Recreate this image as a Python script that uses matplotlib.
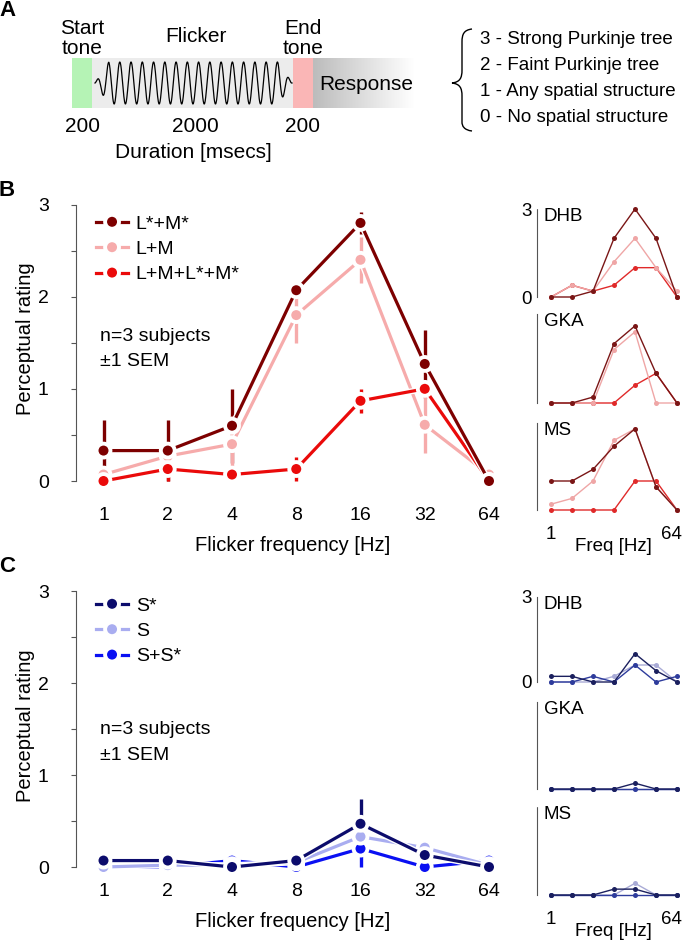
import numpy as np
import matplotlib
matplotlib.use("Agg")
import matplotlib.pyplot as plt
import matplotlib.patheffects as pe
from matplotlib.path import Path
from matplotlib.patches import PathPatch, Rectangle

plt.rcParams['font.family'] = ['Liberation Sans', 'DejaVu Sans']

W, H = 684, 941

freqs = [1, 2, 4, 8, 16, 32, 64]

# panel B: means and SEM over subjects
lm_star = [0.33, 0.33, 0.60, 2.07, 2.80, 1.27, 0.00]
lm_star_sem = [0.33, 0.33, 0.40, 0.07, 0.12, 0.37, 0.00]
lm = [0.07, 0.27, 0.40, 1.80, 2.40, 0.61, 0.07]
lm_sem = [0.07, 0.13, 0.30, 0.30, 0.25, 0.31, 0.07]
lm_both = [0.00, 0.13, 0.07, 0.13, 0.87, 1.00, 0.00]
lm_both_sem = [0.00, 0.13, 0.07, 0.13, 0.13, 0.00, 0.00]

# panel B: single subjects (L*+M*, L+M, L+M+L*+M*)
dhb_lm_star = [0, 0, 0.2, 2.0, 3.0, 2.0, 0]
dhb_lm = [0, 0.4, 0.2, 1.2, 2.0, 1.0, 0.2]
dhb_lm_both = [0, 0.4, 0.2, 0.4, 1.0, 1.0, 0]
gka_lm_star = [0, 0, 0.2, 2.0, 2.6, 1.0, 0]
gka_lm = [0, 0, 0, 1.8, 2.4, 0, 0]
gka_lm_both = [0, 0, 0, 0, 0.6, 1.0, 0]
ms_lm_star = [1.0, 1.0, 1.4, 2.2, 2.8, 0.8, 0]
ms_lm = [0.2, 0.4, 1.0, 2.4, 2.8, 0.8, 0]
ms_lm_both = [0, 0, 0, 0, 1.0, 1.0, 0]

# panel C: means and SEM
s_star = [0.07, 0.07, 0.00, 0.07, 0.47, 0.13, 0.00]
s_star_sem = [0.07, 0.07, 0.00, 0.07, 0.27, 0.13, 0.00]
s = [0.00, 0.02, 0.02, 0.05, 0.33, 0.21, 0.02]
s_sem = [0.00, 0.00, 0.00, 0.05, 0.10, 0.05, 0.00]
s_both = [0.00, 0.00, 0.07, 0.00, 0.20, 0.00, 0.07]
s_both_sem = [0.00, 0.00, 0.07, 0.00, 0.20, 0.00, 0.07]

# panel C: single subjects (S*, S, S+S*)
dhb_s_star = [0.2, 0.2, 0, 0, 1.0, 0.4, 0]
dhb_s = [0, 0, 0, 0.2, 0.6, 0.6, 0]
dhb_s_both = [0, 0, 0.2, 0, 0.6, 0, 0.2]
gka_s_star = [0, 0, 0, 0, 0.2, 0, 0]
gka_s = [0, 0, 0, 0, 0, 0, 0]
gka_s_both = [0, 0, 0, 0, 0, 0, 0]
ms_s_star = [0, 0, 0, 0.2, 0.2, 0, 0]
ms_s = [0, 0, 0, 0, 0.4, 0, 0]
ms_s_both = [0, 0, 0, 0, 0, 0, 0]

rating_labels = ["3 - Strong Purkinje tree", "2 - Faint Purkinje tree",
                 "1 - Any spatial structure", "0 - No spatial structure"]

RED_DARK, RED_PINK, RED = '#7d0000', '#f6abab', '#ea0a0a'
BLUE_DARK, BLUE_LAV, BLUE = '#0c0c6c', '#a9adf0', '#0a10f2'
sRED_DARK, sRED_PINK, sRED = '#7a1616', '#efa6a6', '#e02a2a'
sBLUE_DARK, sBLUE_LAV, sBLUE = '#1b205e', '#a9abd6', '#2e3c9c'

fig = plt.figure(figsize=(W / 100, H / 100), dpi=100)


def box(l, t, r, b):
    return [l / W, 1 - b / H, (r - l) / W, (b - t) / H]


def place(x1, x64, y0, y3, left, right, ylo, yhi):
    sx = (x64 - x1) / 6.0
    sy = (y0 - y3) / 3.0
    ax = fig.add_axes(box(left, y3 - (yhi - 3) * sy, right, y0 + (0 - ylo) * sy))
    ax.set_xscale('log', base=2)
    ax.set_xlim(2 ** ((left - x1) / sx), 2 ** ((right - x1) / sx))
    ax.set_ylim(ylo, yhi)
    ax.patch.set_alpha(0)
    for side in ['top', 'right', 'bottom']:
        ax.spines[side].set_visible(False)
    ax.spines['left'].set_bounds(0, 3)
    ax.spines['left'].set_linestyle((0, (1, 1)))
    ax.spines['left'].set_linewidth(0.8)
    ax.spines['left'].set_color('#555555')
    ax.minorticks_off()
    return ax


# ---------------- panel A ----------------
axA = fig.add_axes([0, 1 - 170 / H, 1, 170 / H])
axA.axis('off')
axA.text(8, 11, 'A', fontsize=16, fontweight='bold', ha='center', va='center')

axA.add_patch(Rectangle((92, 58), 201, 50, color='#ececec', lw=0))
axA.add_patch(Rectangle((72, 58), 20, 50, color='#b5f3b5', lw=0))
axA.add_patch(Rectangle((293, 58), 20, 50, color='#fab6b6', lw=0))
grad = np.linspace(0.68, 1.0, 256) ** 0.8
axA.imshow(grad[None, :], extent=(313, 415, 108, 58), cmap='gray', vmin=0, vmax=1,
           aspect='auto', interpolation='bilinear')
axA.set_xlim(0, W)
axA.set_ylim(170, 0)

# flicker waveform sketch
tw = np.linspace(0, 1, 800)
env = np.clip(tw / 0.07, 0, 1) * np.clip((1 - tw) / 0.07, 0, 1)
axA.plot(95 + tw * 197, 83 - 21 * env * np.sin(2 * np.pi * 17.5 * tw + 0.3),
         color='black', lw=0.9)

axA.text(82, 28, 'Start', fontsize=15, ha='center', va='center')
axA.text(82, 49, 'tone', fontsize=15, ha='center', va='center')
axA.text(196, 37, 'Flicker', fontsize=15, ha='center', va='center')
axA.text(303, 28, 'End', fontsize=15, ha='center', va='center')
axA.text(303, 49, 'tone', fontsize=15, ha='center', va='center')
axA.text(319, 84, 'Response', fontsize=15, ha='left', va='center')
axA.text(82, 127, '200', fontsize=15, ha='center', va='center')
axA.text(195, 127, '2000', fontsize=15, ha='center', va='center')
axA.text(303, 127, '200', fontsize=15, ha='center', va='center')
axA.text(193, 153, 'Duration [msecs]', fontsize=15, ha='center', va='center')

verts = [(472, 29), (464, 30), (462, 34), (462, 42),
         (462, 70), (462, 78), (460, 82), (452, 83),
         (460, 84), (462, 88), (462, 96),
         (462, 122), (462, 126), (464, 130), (472, 131)]
codes = [Path.MOVETO, Path.CURVE4, Path.CURVE4, Path.CURVE4,
         Path.LINETO, Path.CURVE4, Path.CURVE4, Path.CURVE4,
         Path.CURVE4, Path.CURVE4, Path.CURVE4,
         Path.LINETO, Path.CURVE4, Path.CURVE4, Path.CURVE4]
axA.add_patch(PathPatch(Path(verts, codes), fill=False, lw=1.0, color='black'))
for i, lab in enumerate(rating_labels):
    axA.text(480, 40 + i * 25.7, lab, fontsize=13.5, ha='left', va='center')


# ---------------- main panels ----------------
def main_panel(ax, series, tickpad, labpad, leg_top, txt_y):
    for y, e, c, lab, z in series:
        ax.errorbar(freqs, y, yerr=e, fmt='none', ecolor=c, elinewidth=2.4,
                    capsize=0, zorder=1)
    for y, e, c, lab, z in series:
        ax.plot(freqs, y, '-o', color=c, lw=2.3, ms=8.5, mec='white', mew=1.3,
                zorder=z, label=lab,
                path_effects=[pe.Stroke(linewidth=4.3, foreground='white'), pe.Normal()])
    ax.set_yticks([0, 0.5, 1, 1.5, 2, 2.5, 3])
    ax.set_yticklabels(['0', '', '1', '', '2', '', '3'])
    ax.set_xticks(freqs)
    ax.set_xticklabels([str(f) for f in freqs])
    ax.tick_params(axis='y', length=3.6, width=0.8, color='#555555', pad=16, labelsize=14)
    ax.tick_params(axis='x', length=0, pad=tickpad, labelsize=14)
    ax.set_xlabel('Flicker frequency [Hz]', fontsize=14.5, labelpad=labpad)
    ax.set_ylabel('Perceptual rating', fontsize=14.5)
    ax.yaxis.set_label_coords(-0.095, 0.52)
    ax.legend(loc='upper left', bbox_to_anchor=(96 / W, 1 - leg_top / H),
              bbox_transform=fig.transFigure, frameon=False, fontsize=14,
              handlelength=1.65, handletextpad=0.4, labelspacing=0.4,
              borderpad=0, borderaxespad=0)
    fig.text(100 / W, 1 - txt_y / H, 'n=3 subjects', fontsize=14, va='center')
    fig.text(100 / W, 1 - (txt_y + 25) / H, '±1 SEM', fontsize=14, va='center')


axB = place(103.5, 489, 481, 204.5, 76, 510, -0.15, 3.1)
main_panel(axB, [(lm_star, lm_star_sem, RED_DARK, 'L*+M*', 4),
                 (lm, lm_sem, RED_PINK, 'L+M', 2),
                 (lm_both, lm_both_sem, RED, 'L+M+L*+M*', 3)], 8.5, 9, 215, 337)
fig.text(7 / W, 1 - 191 / H, 'B', fontsize=16, fontweight='bold', ha='center', va='center')

axC = place(103.5, 489, 867, 591, 76, 510, -0.15, 3.1)
main_panel(axC, [(s_star, s_star_sem, BLUE_DARK, 'S*', 4),
                 (s, s_sem, BLUE_LAV, 'S', 3),
                 (s_both, s_both_sem, BLUE, 'S+S*', 2)], 1.5, 9, 597, 730)
fig.text(7 / W, 1 - 567 / H, 'C', fontsize=16, fontweight='bold', ha='center', va='center')


# ---------------- single subject panels ----------------
def small_panel(y0, y3, name, series, first=False, last=False):
    ax = place(551, 677, y0, y3, 537, 684, -0.2, 3.1)
    for y, c in series:
        ax.plot(freqs, y, '-o', color=c, lw=1.0, ms=3.6, mew=0)
    ax.text(0.045, 2.75, name, transform=ax.get_yaxis_transform(), fontsize=13.5,
            ha='left', va='center')
    if first:
        ax.set_yticks([0, 3])
        ax.set_yticklabels(['0', '3'])
        ax.tick_params(axis='y', length=0, pad=4, labelsize=13.5)
    else:
        ax.set_yticks([])
    ax.set_xticks([])
    if last:
        # end labels of the frequency axis, "64" pulled in to stay on the page
        for f, dx in [(freqs[0], 0), (freqs[-1], -4)]:
            ax.annotate(str(f), xy=(f, 0), xycoords=('data', 'axes fraction'),
                        xytext=(dx, -7), textcoords='offset points',
                        ha='center', va='top', fontsize=13.5)
        ax.text(0.52, -0.23, 'Freq [Hz]', transform=ax.transAxes, fontsize=13.5,
                ha='center', va='top')
    return ax


small_panel(297, 209, 'DHB', [(dhb_lm_both, sRED), (dhb_lm, sRED_PINK), (dhb_lm_star, sRED_DARK)], first=True)
small_panel(403, 314, 'GKA', [(gka_lm_both, sRED), (gka_lm, sRED_PINK), (gka_lm_star, sRED_DARK)])
small_panel(510, 423, 'MS', [(ms_lm_both, sRED), (ms_lm, sRED_PINK), (ms_lm_star, sRED_DARK)], last=True)

small_panel(682, 597, 'DHB', [(dhb_s, sBLUE_LAV), (dhb_s_both, sBLUE), (dhb_s_star, sBLUE_DARK)], first=True)
small_panel(789, 702, 'GKA', [(gka_s, sBLUE_LAV), (gka_s_both, sBLUE), (gka_s_star, sBLUE_DARK)])
small_panel(895, 807, 'MS', [(ms_s, sBLUE_LAV), (ms_s_both, sBLUE), (ms_s_star, sBLUE_DARK)], last=True)

fig.savefig('out.png', dpi=100)
